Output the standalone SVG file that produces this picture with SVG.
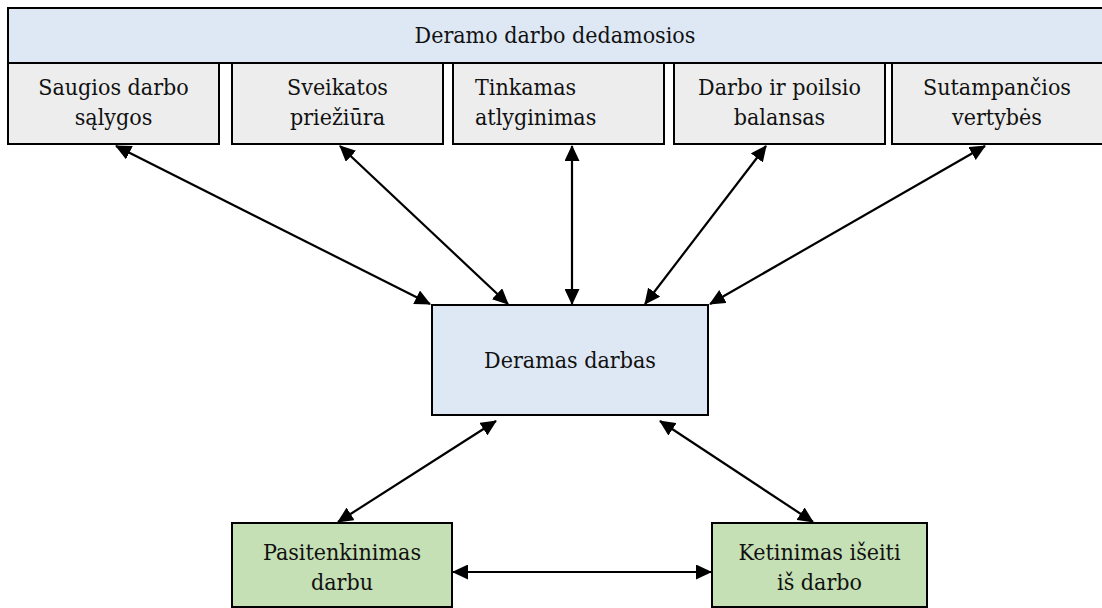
<svg xmlns="http://www.w3.org/2000/svg" width="1102" height="608" viewBox="0 0 1102 608">
<defs>
<marker id="ah" markerUnits="userSpaceOnUse" markerWidth="16" markerHeight="15" viewBox="0 0 16 15" refX="15" refY="7.5" orient="auto-start-reverse">
<path d="M0,0 L16,7.5 L0,15 z" fill="#000"/>
</marker>
<style>
.box{stroke:#000;stroke-width:2}
.hdr{fill:#dee8f4}
.sub{fill:#ededed}
.grn{fill:#c5e0b4}
text{font-family:'DejaVu Serif Condensed','DejaVu Serif',serif;font-stretch:condensed;font-size:23px;fill:#111;text-anchor:middle}
.l{text-anchor:start}
.c{stroke:#000;stroke-width:2.2;fill:none;marker-start:url(#ah);marker-end:url(#ah)}
</style>
</defs>
<rect width="1102" height="608" fill="#fff"/>
<g id="connectors">
<line class="c" x1="116" y1="146" x2="430" y2="304"/>
<line class="c" x1="340" y1="146" x2="508" y2="304"/>
<line class="c" x1="572" y1="146" x2="572" y2="304"/>
<line class="c" x1="766" y1="146" x2="645" y2="304"/>
<line class="c" x1="985" y1="146" x2="710" y2="304"/>
<line class="c" x1="496" y1="421" x2="338" y2="522"/>
<line class="c" x1="660" y1="421" x2="813" y2="522"/>
<line class="c" x1="453" y1="572" x2="711" y2="572"/>
</g>
<g id="header">
<rect class="box hdr" x="8" y="8" width="1100" height="55"/>
<text x="555" y="43">Deramo darbo dedamosios</text>
</g>
<g id="saugios">
<rect class="box sub" x="8" y="63" width="211" height="81"/>
<text x="113.5" y="95">Saugios darbo</text>
<text x="113.5" y="125">sąlygos</text>
</g>
<g id="sveikatos">
<rect class="box sub" x="232" y="63" width="211" height="81"/>
<text x="337.5" y="95">Sveikatos</text>
<text x="337.5" y="125">priežiūra</text>
</g>
<g id="tinkamas">
<rect class="box sub" x="453" y="63" width="211" height="81"/>
<text class="l" x="475" y="95">Tinkamas</text>
<text class="l" x="475" y="125">atlyginimas</text>
</g>
<g id="balansas">
<rect class="box sub" x="674" y="63" width="211" height="81"/>
<text x="779.5" y="95">Darbo ir poilsio</text>
<text x="779.5" y="125">balansas</text>
</g>
<g id="vertybes">
<rect class="box sub" x="892" y="63" width="216" height="81"/>
<text x="997" y="95">Sutampančios</text>
<text x="997" y="125">vertybės</text>
</g>
<g id="deramas">
<rect class="box hdr" x="432" y="305" width="276" height="110"/>
<text x="570" y="368">Deramas darbas</text>
</g>
<g id="pasitenkinimas">
<rect class="box grn" x="232" y="523" width="220" height="84"/>
<text x="342" y="560">Pasitenkinimas</text>
<text x="342" y="590">darbu</text>
</g>
<g id="ketinimas">
<rect class="box grn" x="712" y="523" width="215" height="84"/>
<text x="819.5" y="560">Ketinimas išeiti</text>
<text x="819.5" y="590">iš darbo</text>
</g>
</svg>
